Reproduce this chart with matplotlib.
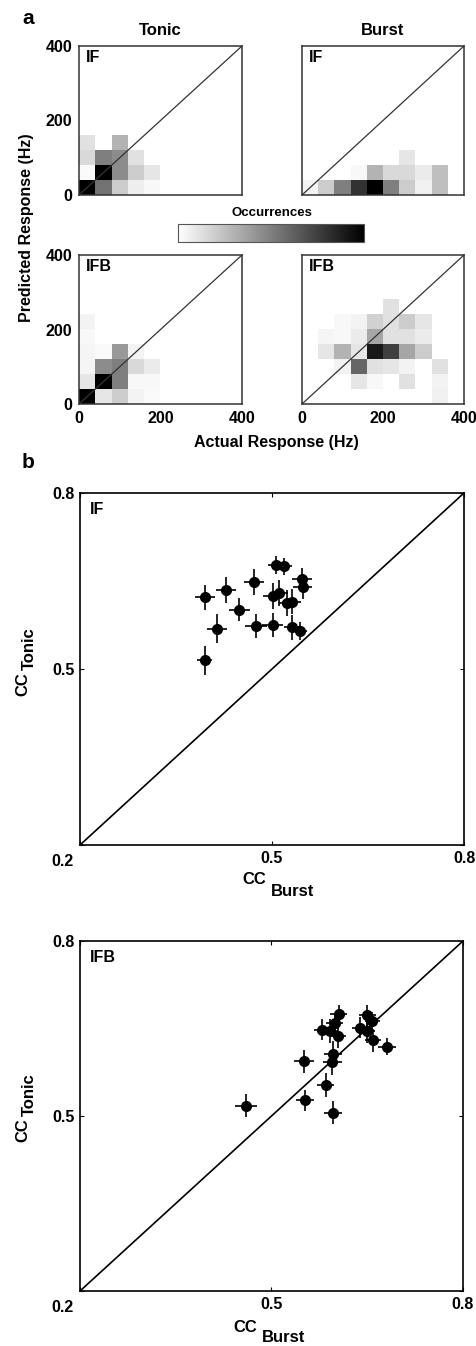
import numpy as np
import matplotlib
matplotlib.use("Agg")
import matplotlib.pyplot as plt

plt.rcParams['font.family'] = ['Liberation Sans', 'DejaVu Sans']
plt.rcParams['font.weight'] = 'bold'

# Painel a: histogramas 10x10 (linhas = resposta prevista 0-400 Hz, de baixo para cima)
tonic_if = [
    [1.00, 0.55, 0.20, 0.07, 0.03, 0, 0, 0, 0, 0],
    [0.02, 1.00, 0.45, 0.20, 0.10, 0, 0, 0, 0, 0],
    [0.15, 0.50, 0.45, 0.12, 0, 0, 0, 0, 0, 0],
    [0.12, 0.00, 0.30, 0, 0, 0, 0, 0, 0, 0],
    [0, 0, 0, 0, 0, 0, 0, 0, 0, 0],
    [0, 0, 0, 0, 0, 0, 0, 0, 0, 0],
    [0, 0, 0, 0, 0, 0, 0, 0, 0, 0],
    [0, 0, 0, 0, 0, 0, 0, 0, 0, 0],
    [0, 0, 0, 0, 0, 0, 0, 0, 0, 0],
    [0, 0, 0, 0, 0, 0, 0, 0, 0, 0],
]
burst_if = [
    [0.05, 0.20, 0.50, 0.80, 1.00, 0.50, 0.20, 0.06, 0.25, 0],
    [0, 0, 0, 0.03, 0.30, 0.15, 0.15, 0.08, 0.25, 0],
    [0, 0, 0, 0, 0, 0, 0.10, 0, 0, 0],
    [0, 0, 0, 0, 0, 0, 0, 0, 0, 0],
    [0, 0, 0, 0, 0, 0, 0, 0, 0, 0],
    [0, 0, 0, 0, 0, 0, 0, 0, 0, 0],
    [0, 0, 0, 0, 0, 0, 0, 0, 0, 0],
    [0, 0, 0, 0, 0, 0, 0, 0, 0, 0],
    [0, 0, 0, 0, 0, 0, 0, 0, 0, 0],
    [0, 0, 0, 0, 0, 0, 0, 0, 0, 0],
]
tonic_ifb = [
    [1.00, 0.10, 0.20, 0.05, 0.02, 0, 0, 0, 0, 0],
    [0.10, 1.00, 0.50, 0.03, 0.03, 0, 0, 0, 0, 0],
    [0.04, 0.45, 0.50, 0.15, 0.08, 0, 0, 0, 0, 0],
    [0.04, 0.02, 0.40, 0.05, 0, 0, 0, 0, 0, 0],
    [0.03, 0, 0, 0, 0, 0, 0, 0, 0, 0],
    [0.05, 0, 0, 0, 0, 0, 0, 0, 0, 0],
    [0, 0, 0, 0, 0, 0, 0, 0, 0, 0],
    [0, 0, 0, 0, 0, 0, 0, 0, 0, 0],
    [0, 0, 0, 0, 0, 0, 0, 0, 0, 0],
    [0, 0, 0, 0, 0, 0, 0, 0, 0, 0],
]
burst_ifb = [
    [0, 0, 0, 0, 0, 0, 0, 0, 0.06, 0],
    [0, 0, 0, 0.10, 0.03, 0, 0.12, 0, 0.05, 0],
    [0, 0, 0.05, 0.60, 0.12, 0.10, 0.05, 0, 0.12, 0],
    [0, 0.10, 0.30, 0.10, 0.90, 0.75, 0.35, 0.20, 0, 0],
    [0, 0.04, 0.03, 0.08, 0.35, 0.12, 0.12, 0.08, 0, 0],
    [0, 0, 0.03, 0.05, 0.18, 0.12, 0.20, 0.10, 0, 0],
    [0, 0, 0, 0, 0, 0.12, 0, 0, 0, 0],
    [0, 0, 0, 0, 0, 0, 0, 0, 0, 0],
    [0, 0, 0, 0, 0, 0, 0, 0, 0, 0],
    [0, 0, 0, 0, 0, 0, 0, 0, 0, 0],
]

# Painel b: coeficientes de correlação (burst, tonic) e erros
if_burst = [0.395, 0.428, 0.414, 0.449, 0.395, 0.472, 0.475, 0.501, 0.506,
            0.518, 0.502, 0.511, 0.524, 0.531, 0.532, 0.543, 0.547, 0.548]
if_tonic = [0.622, 0.635, 0.569, 0.601, 0.515, 0.648, 0.573, 0.575, 0.677,
            0.675, 0.625, 0.629, 0.612, 0.615, 0.571, 0.565, 0.653, 0.639]
if_xerr = [0.016, 0.015, 0.015, 0.016, 0.012, 0.015, 0.017, 0.016, 0.013,
           0.014, 0.016, 0.014, 0.013, 0.015, 0.014, 0.012, 0.015, 0.015]
if_yerr = [0.022, 0.022, 0.024, 0.020, 0.025, 0.022, 0.020, 0.020, 0.015,
           0.014, 0.022, 0.022, 0.022, 0.022, 0.021, 0.015, 0.020, 0.020]

ifb_burst = [0.460, 0.551, 0.552, 0.585, 0.597, 0.595, 0.597, 0.579, 0.591,
             0.599, 0.605, 0.604, 0.639, 0.649, 0.650, 0.658, 0.659, 0.681]
ifb_tonic = [0.518, 0.594, 0.527, 0.553, 0.506, 0.592, 0.607, 0.648, 0.646,
             0.659, 0.675, 0.637, 0.651, 0.645, 0.673, 0.663, 0.630, 0.619]
ifb_xerr = [0.017, 0.015, 0.014, 0.013, 0.014, 0.015, 0.014, 0.013, 0.013,
            0.013, 0.014, 0.013, 0.013, 0.013, 0.013, 0.012, 0.013, 0.014]
ifb_yerr = [0.020, 0.020, 0.018, 0.020, 0.020, 0.022, 0.022, 0.018, 0.020,
            0.018, 0.016, 0.020, 0.018, 0.020, 0.018, 0.016, 0.020, 0.015]

W, H = 477, 1346
fig = plt.figure(figsize=(W / 100, H / 100), dpi=100)

FS = 11.5  # tamanho dos textos principais


def pos(x0, y0, x1, y1):
    # converte pixels (origem no topo) para fração da figura
    return [x0 / W, 1 - y1 / H, (x1 - x0) / W, (y1 - y0) / H]


def heatmap(rect, dados, nome, ylab, xlab):
    ax = fig.add_axes(pos(*rect))
    im = ax.imshow(np.array(dados), cmap='gray_r', vmin=0, vmax=1,
                   extent=[0, 400, 0, 400], origin='lower', aspect='auto',
                   interpolation='nearest')
    ax.plot([0, 400], [0, 400], color='#333333', lw=0.9)
    ax.set_xlim(0, 400)
    ax.set_ylim(0, 400)
    ax.set_xticks([0, 200, 400])
    ax.set_yticks([0, 200, 400])
    ax.tick_params(length=0, labelsize=FS, pad=5)
    if not ylab:
        ax.set_yticklabels([])
    if not xlab:
        ax.set_xticklabels([])
    for s in ax.spines.values():
        s.set_linewidth(1.1)
        s.set_color('#333333')
    ax.text(0.04, 0.97, nome, transform=ax.transAxes, va='top', ha='left',
            fontsize=FS, fontweight='bold')
    return ax, im


ax1, im = heatmap((79, 46, 242, 195), tonic_if, 'IF', True, False)
ax2, _ = heatmap((302, 46, 464, 195), burst_if, 'IF', False, False)
ax3, _ = heatmap((79, 255, 242, 404), tonic_ifb, 'IFB', True, True)
ax4, _ = heatmap((302, 255, 464, 404), burst_ifb, 'IFB', False, True)

ax1.set_title('Tonic', fontsize=12, fontweight='bold', pad=8)
ax2.set_title('Burst', fontsize=12, fontweight='bold', pad=8)

cax = fig.add_axes(pos(178, 224, 364, 242))
cb = fig.colorbar(im, cax=cax, orientation='horizontal')
cb.set_ticks([])
cb.outline.set_linewidth(0.8)
cb.outline.set_edgecolor('#555555')
fig.text(272 / W, 1 - 213 / H, 'Occurrences', ha='center', va='center',
         fontsize=9.5, fontweight='bold')

fig.text(27 / W, 1 - 228 / H, 'Predicted Response (Hz)', rotation=90,
         ha='center', va='center', fontsize=FS, fontweight='bold')
fig.text(276 / W, 1 - 443 / H, 'Actual Response (Hz)', ha='center',
         va='center', fontsize=FS, fontweight='bold')

fig.text(28 / W, 1 - 18 / H, 'a', ha='center', va='center', fontsize=15,
         fontweight='bold')
fig.text(28 / W, 1 - 462 / H, 'b', ha='center', va='center', fontsize=15,
         fontweight='bold')


def dispersao(rect, xs, ys, xe, ye, nome, lab_pos):
    ax = fig.add_axes(pos(*rect))
    ax.plot([0.2, 0.8], [0.2, 0.8], color='black', lw=1.2)
    ax.errorbar(xs, ys, xerr=xe, yerr=ye, fmt='o', color='black', ms=7,
                elinewidth=1.2, capsize=0)
    ax.set_xlim(0.2, 0.8)
    ax.set_ylim(0.2, 0.8)
    ax.set_xticks([0.2, 0.5, 0.8])
    ax.set_xticklabels(['', '0.5', '0.8'])
    ax.set_yticks([0.2, 0.5, 0.8])
    ax.set_yticklabels(['', '0.5', '0.8'])
    ax.tick_params(direction='in', top=True, right=True, length=3,
                   labelsize=FS, pad=4)
    for s in ax.spines.values():
        s.set_linewidth(1.2)
    ax.text(-0.045, -0.025, '0.2', transform=ax.transAxes, ha='center',
            va='top', fontsize=FS, fontweight='bold')
    ax.text(0.025, 0.975, nome, transform=ax.transAxes, va='top', ha='left',
            fontsize=FS, fontweight='bold')
    # rótulos CC com subscrito
    (ycc, yton, xcc, ycc_x, ybur) = lab_pos
    fig.text(23 / W, 1 - ycc / H, 'CC', rotation=90, ha='center',
             va='top', fontsize=12, fontweight='bold')
    fig.text(29 / W, 1 - yton / H, 'Tonic', rotation=90, ha='center',
             va='bottom', fontsize=12, fontweight='bold')
    fig.text(xcc / W, 1 - ycc_x / H, 'CC', ha='right', va='center',
             fontsize=12, fontweight='bold')
    fig.text((xcc + 5) / W, 1 - ybur / H, 'Burst', ha='left', va='center',
             fontsize=12, fontweight='bold')
    return ax


dispersao((80, 493, 464, 845), if_burst, if_tonic, if_xerr, if_yerr, 'IF',
          (672, 670, 266, 880, 891))
dispersao((80, 941, 463, 1291), ifb_burst, ifb_tonic, ifb_xerr, ifb_yerr,
          'IFB', (1118, 1116, 257, 1328, 1338))

fig.savefig('out.png', dpi=100)
